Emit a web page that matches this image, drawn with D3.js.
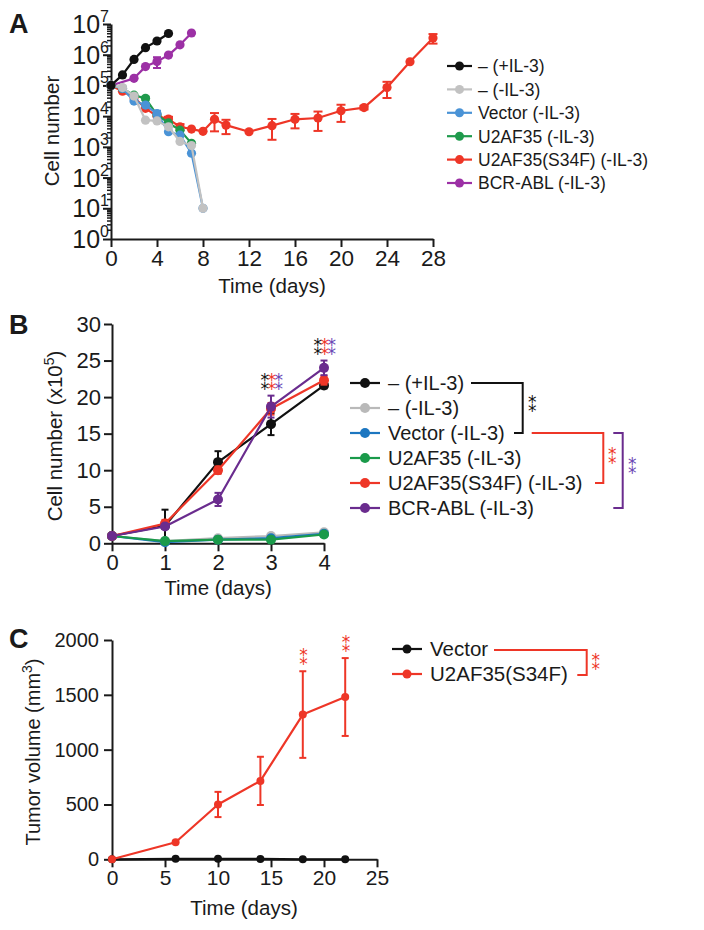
<!DOCTYPE html>
<html><head><meta charset="utf-8">
<script src="https://cdn.jsdelivr.net/npm/d3@7"></script>
<style>
body{margin:0;background:#fff}
svg{display:block}
text{font-family:Arial,"Liberation Sans",Helvetica,sans-serif;fill:#1a1a1a}
text.stars{font-family:"DejaVu Sans",sans-serif;letter-spacing:-1.5px}
</style>
</head><body>
<svg id="chart" width="704" height="930"></svg>
<script>
// ---------------- DATA ----------------
// Panel A (log scale cell number)
const seriesNamesA = ["– (+IL-3)", "– (-IL-3)", "Vector (-IL-3)", "U2AF35 (-IL-3)", "U2AF35(S34F) (-IL-3)", "BCR-ABL (-IL-3)"];
const aPlusDays = [0,1,2,3,4,5];
const aPlusVals = [1.0e5, 2.2e5, 7.0e5, 1.7e6, 2.8e6, 4.9e6];
const aPlusErr  = [0,0,0,0,0,0];
const aMinusDays = [0,1,2,3,4,5,6,7,8];
const aMinusVals = [1.0e5, 8.5e4, 4.5e4, 7.4e3, 7.0e3, 4.5e3, 1.5e3, 1.1e3, 10];
const aMinusErr  = [0,0,0,0,0,0,0,0,0];
const aVectorDays = [0,1,2,3,4,5,6,7,8];
const aVectorVals = [1.0e5, 8.0e4, 3.1e4, 2.3e4, 1.2e4, 3.1e3, 2.4e3, 620, 10];
const aVectorErr  = [0,0,0,0,3.0e3,0,0,0,0];
const aU2Days = [0,1,2,3,4,5,6,7];
const aU2Vals = [1.0e5, 8.0e4, 4.8e4, 3.8e4, 1.1e4, 6.0e3, 3.5e3, 1.3e3];
const aU2Err  = [0,0,0,5.0e3,0,0,0,0];
const aS34FDays = [0,1,2,3,4,5,6,7,8,9,10,12,14,16,18,20,22,24,26,28];
const aS34FVals = [1.0e5, 6.5e4, 4.0e4, 1.8e4, 1.0e4, 8.0e3, 4.5e3, 3.8e3, 3.2e3, 7.9e3, 5.1e3, 3.1e3, 4.9e3, 7.9e3, 8.7e3, 1.5e4, 1.9e4, 8.5e4, 5.9e5, 3.5e6];
const aS34FErr  = [0,0,0,0,0,1.5e3,1.0e3,0,0,4.7e3,2.5e3,0,3.2e3,3.9e3,5.4e3,8.5e3,2.5e3,4.6e4,0,1.2e6];
const aBcrDays = [0,2,3,4,5,6,7];
const aBcrVals = [1.0e5, 1.7e5, 4.1e5, 6.0e5, 9.7e5, 2.1e6, 5.1e6];
const aBcrErr  = [0,0,0,2.3e5,0,0,0];
const aTickExps = [0,1,2,3,4,5,6,7];
const aXTicks = [0,4,8,12,16,20,24,28];

// Panel B (linear, x10^5)
const seriesNamesB = ["– (+IL-3)", "– (-IL-3)", "Vector (-IL-3)", "U2AF35 (-IL-3)", "U2AF35(S34F) (-IL-3)", "BCR-ABL (-IL-3)"];
const bDays = [0,1,2,3,4];
const bPlusVals   = [1.0, 2.4, 11.1, 16.3, 21.6];
const bPlusErr    = [0, 2.2, 1.5, 1.5, 0.4];
const bMinusVals  = [1.0, 0.3, 0.7, 1.0, 1.5];
const bMinusErr   = [0,0,0,0,0];
const bVectorVals = [1.0, 0.15, 0.5, 0.7, 1.3];
const bVectorErr  = [0,0,0,0,0];
const bU2Vals     = [1.0, 0.3, 0.5, 0.5, 1.2];
const bU2Err      = [0,0,0,0,0];
const bS34FVals   = [1.0, 2.7, 10.0, 18.4, 22.3];
const bS34FErr    = [0, 0.5, 0.5, 0.8, 0.6];
const bBcrVals    = [1.0, 2.3, 6.0, 18.7, 24.0];
const bBcrErr     = [0, 0.3, 0.9, 1.5, 1.0];
const bYTicks = [0,5,10,15,20,25,30];
const bXTicks = [0,1,2,3,4];
const bStarDays = [3,4];

// Panel C (tumor volume)
const seriesNamesC = ["Vector", "U2AF35(S34F)"];
const cDays = [0,6,10,14,18,22];
const cVectorVals = [0,5,5,3,0,0];
const cVectorErr  = [0,0,0,0,0,0];
const cS34FVals   = [0,155,500,715,1320,1480];
const cS34FErr    = [0,0,115,220,395,355];
const cYTicks = [0,500,1000,1500,2000];
const cXTicks = [0,5,10,15,20,25];
const cStarDays = [18,22];

// ---------------- STYLE ----------------
const colA = ["#111111","#c2c2c2","#4a93d6","#1f9a4c","#ee3627","#9c30a5"];
const colB = ["#111111","#b9b9b9","#1c76c0","#1a9a4a","#ee3627","#6a2c8e"];
const colC = ["#111111","#ee3627"];
const STARPURPLE = "#6b46b4";
const AXC = "#1a1a1a";
const intFmt = d3.format("d");
const STACK = "\u2051"; // two asterisks aligned vertically
const STARFS = 17;

const svg = d3.select("#chart");

function drawSeries(g, x, y, days, vals, errs, color, r, cap, yMin) {
  const pts = days.map((d,i)=>({d, v:vals[i], e:errs[i]}));
  const eb = g.append("g");
  pts.filter(p=>p.e>0).forEach(p=>{
    const lo = Math.max(p.v - p.e, yMin), hi = p.v + p.e;
    const cx = x(p.d);
    eb.append("line").attr("x1",cx).attr("x2",cx).attr("y1",y(lo)).attr("y2",y(hi)).attr("stroke",color).attr("stroke-width",2);
    [lo,hi].forEach(v=>eb.append("line").attr("x1",cx-cap).attr("x2",cx+cap).attr("y1",y(v)).attr("y2",y(v)).attr("stroke",color).attr("stroke-width",2));
  });
  g.append("path").datum(pts).attr("fill","none").attr("stroke",color).attr("stroke-width",2.2)
    .attr("stroke-linejoin","round")
    .attr("d", d3.line().x(p=>x(p.d)).y(p=>y(p.v)));
  g.append("g").selectAll("circle").data(pts).join("circle")
    .attr("cx",p=>x(p.d)).attr("cy",p=>y(p.v)).attr("r",r).attr("fill",color);
}

function styleAxis(g){
  g.selectAll("path.domain").attr("stroke",AXC).attr("stroke-width",2);
  g.selectAll(".tick line").attr("stroke",AXC).attr("stroke-width",2);
}

function legend(g, names, colors, x0, y0, dy, fs, r, len, gap) {
  names.forEach((n,i)=>{
    const yy = y0 + i*dy;
    g.append("line").attr("x1",x0).attr("x2",x0+len).attr("y1",yy).attr("y2",yy).attr("stroke",colors[i]).attr("stroke-width",2.2);
    g.append("circle").attr("cx",x0+len/2).attr("cy",yy).attr("r",r).attr("fill",colors[i]);
    g.append("text").attr("x",x0+len+gap).attr("y",yy+fs*0.36).style("font-size",fs+"px").text(n);
  });
}

// vertically stacked asterisk pairs, one glyph per colour, in a single line of text
function stars(g, x, yCenter, cols, fs) {
  const t = g.append("text").attr("class","stars").attr("text-anchor","middle")
    .attr("x",x).attr("y",yCenter + fs*0.36).style("font-size",fs+"px");
  cols.forEach(c=>t.append("tspan").style("fill",c).text(STACK));
  return t;
}

function panelLetter(t, x, y){
  svg.append("text").attr("x",x).attr("y",y).style("font-size","27px").style("font-weight","bold").text(t);
}

// ---------------- PANEL A ----------------
{
  const g = svg.append("g");
  const x = d3.scaleLinear().domain([0,28]).range([111,433]);
  const y = d3.scaleLog().domain([1,1e7]).range([239,24]);
  const minors = [];
  for (let e=0;e<7;e++) for (let k=2;k<10;k++) minors.push(k*Math.pow(10,e));
  const gy = g.append("g").attr("transform","translate(111,0)")
    .call(d3.axisLeft(y).tickValues(aTickExps.map(e=>Math.pow(10,e))).tickSize(8).tickSizeOuter(0).tickFormat(""));
  const gym = g.append("g").attr("transform","translate(111,0)")
    .call(d3.axisLeft(y).tickValues(minors).tickSize(4).tickSizeOuter(0).tickFormat(""));
  gym.select("path.domain").remove();
  styleAxis(gy); styleAxis(gym);
  gym.selectAll(".tick line").attr("stroke-width",1.5);
  g.append("g").selectAll("text").data(aTickExps).join("text")
    .attr("x",109).attr("y",e=>y(Math.pow(10,e))+9).attr("text-anchor","end").style("font-size","25px")
    .each(function(e){
      const t=d3.select(this);
      t.append("tspan").text("10");
      t.append("tspan").attr("dy",-11).style("font-size","16px").text(e);
    });
  const gx = g.append("g").attr("transform","translate(0,239)")
    .call(d3.axisBottom(x).tickValues(aXTicks).tickSize(8).tickSizeOuter(0).tickPadding(3).tickFormat(intFmt));
  styleAxis(gx);
  gx.selectAll(".tick text").style("font-size","22.5px").attr("fill","#1a1a1a").attr("font-family",null);
  g.append("text").attr("x",272).attr("y",293).attr("text-anchor","middle").style("font-size","20.5px").text("Time (days)");
  g.append("text").attr("transform","translate(59,131) rotate(-90)").attr("text-anchor","middle").style("font-size","20.5px").text("Cell number");

  const gs = g.append("g");
  const yMin = 1;
  // draw in reverse legend order so "+IL-3" sits on top
  drawSeries(gs,x,y,aBcrDays,aBcrVals,aBcrErr,colA[5],4.6,4,yMin);
  drawSeries(gs,x,y,aS34FDays,aS34FVals,aS34FErr,colA[4],4.6,4.5,yMin);
  drawSeries(gs,x,y,aU2Days,aU2Vals,aU2Err,colA[3],4.6,4,yMin);
  drawSeries(gs,x,y,aVectorDays,aVectorVals,aVectorErr,colA[2],4.6,4,yMin);
  drawSeries(gs,x,y,aMinusDays,aMinusVals,aMinusErr,colA[1],4.6,4,yMin);
  drawSeries(gs,x,y,aPlusDays,aPlusVals,aPlusErr,colA[0],4.6,4,yMin);

  legend(g, seriesNamesA, colA, 447, 66, 23.4, 17.5, 4.5, 25, 6);
  panelLetter("A", 9, 33);
}

// ---------------- PANEL B ----------------
{
  const g = svg.append("g");
  const x = d3.scaleLinear().domain([0,4]).range([112,324]);
  const y = d3.scaleLinear().domain([0,30]).range([543.3,324]);
  const gy = g.append("g").attr("transform","translate(112,0)")
    .call(d3.axisLeft(y).tickValues(bYTicks).tickSize(8).tickSizeOuter(0).tickPadding(3).tickFormat(intFmt));
  styleAxis(gy);
  gy.selectAll(".tick text").style("font-size","22px").attr("fill","#1a1a1a").attr("font-family",null);
  const gx = g.append("g").attr("transform","translate(0,543.3)")
    .call(d3.axisBottom(x).tickValues(bXTicks).tickSize(8).tickSizeOuter(0).tickPadding(3).tickFormat(intFmt));
  styleAxis(gx);
  gx.selectAll(".tick text").style("font-size","22px").attr("fill","#1a1a1a").attr("font-family",null);
  g.append("text").attr("x",218).attr("y",595).attr("text-anchor","middle").style("font-size","20.5px").text("Time (days)");
  const yl = g.append("text").attr("transform","translate(62,436) rotate(-90)").attr("text-anchor","middle").style("font-size","20.5px");
  yl.append("tspan").text("Cell number (x10");
  yl.append("tspan").attr("dy",-8).style("font-size","14px").text("5");
  yl.append("tspan").attr("dy",8).text(")");

  const gs = g.append("g");
  const vals = [bPlusVals,bMinusVals,bVectorVals,bU2Vals,bS34FVals,bBcrVals];
  const errs = [bPlusErr,bMinusErr,bVectorErr,bU2Err,bS34FErr,bBcrErr];
  vals.forEach((v,i)=>drawSeries(gs,x,y,bDays,v,errs[i],colB[i],5,3.5,0));

  // significance stars above BCR-ABL error bars
  const starCols = [colB[0], colB[4], STARPURPLE];
  bStarDays.forEach(d=>{
    const i = bDays.indexOf(d);
    const top = y(bBcrVals[i]+bBcrErr[i]);
    stars(g, x(d), top-12, starCols, STARFS);
  });

  legend(g, seriesNamesB, colB, 350, 383, 25, 20, 5, 30, 8);
  // brackets
  const rowY = i => 383 + i*25;
  g.append("path").attr("d",`M471,${rowY(0)}H522.7V${rowY(2)}H514`).attr("fill","none").attr("stroke",colB[0]).attr("stroke-width",2);
  stars(g,531.5,rowY(0)+23,[colB[0]],STARFS);
  g.append("path").attr("d",`M531.7,${rowY(2)}H603.3V${rowY(4)}H595`).attr("fill","none").attr("stroke",colB[4]).attr("stroke-width",2);
  stars(g,611.5,rowY(2)+24.5,[colB[4]],STARFS);
  g.append("path").attr("d",`M613.3,${rowY(2)}H622.7V${rowY(5)}H613.3`).attr("fill","none").attr("stroke",colB[5]).attr("stroke-width",2);
  stars(g,631.5,rowY(2)+35,[STARPURPLE],STARFS);

  panelLetter("B", 9, 334);
}

// ---------------- PANEL C ----------------
{
  const g = svg.append("g");
  const x = d3.scaleLinear().domain([0,25]).range([112,377]);
  const y = d3.scaleLinear().domain([0,2000]).range([859.3,640]);
  const gy = g.append("g").attr("transform","translate(112,0)")
    .call(d3.axisLeft(y).tickValues(cYTicks).tickSize(8).tickSizeOuter(0).tickPadding(5).tickFormat(intFmt));
  styleAxis(gy);
  gy.selectAll(".tick text").style("font-size","20px").attr("fill","#1a1a1a").attr("font-family",null);
  const gx = g.append("g").attr("transform","translate(0,859.3)")
    .call(d3.axisBottom(x).tickValues(cXTicks).tickSize(8).tickSizeOuter(0).tickPadding(3).tickFormat(intFmt));
  styleAxis(gx);
  gx.selectAll(".tick text").style("font-size","21px").attr("fill","#1a1a1a").attr("font-family",null);
  g.append("text").attr("x",244).attr("y",915).attr("text-anchor","middle").style("font-size","20.5px").text("Time (days)");
  const yl = g.append("text").attr("transform","translate(40,752) rotate(-90)").attr("text-anchor","middle").style("font-size","20px");
  yl.append("tspan").text("Tumor volume (mm");
  yl.append("tspan").attr("dy",-8).style("font-size","14px").text("3");
  yl.append("tspan").attr("dy",8).text(")");

  const gs = g.append("g");
  drawSeries(gs,x,y,cDays,cVectorVals,cVectorErr,colC[0],4,3.5,0);
  drawSeries(gs,x,y,cDays,cS34FVals,cS34FErr,colC[1],4,3.5,0);
  cStarDays.forEach(d=>{
    const i = cDays.indexOf(d);
    const top = y(cS34FVals[i]+cS34FErr[i]);
    stars(g, x(d), top-12, [colC[1]], STARFS);
  });

  legend(g, seriesNamesC, colC, 392, 649, 25, 20.5, 4.5, 30, 8);
  g.append("path").attr("d","M494,650H586.7V675H577.3").attr("fill","none").attr("stroke",colC[1]).attr("stroke-width",2);
  stars(g,595,663.5,[colC[1]],STARFS);

  panelLetter("C", 9, 648);
}
</script>
</body></html>
